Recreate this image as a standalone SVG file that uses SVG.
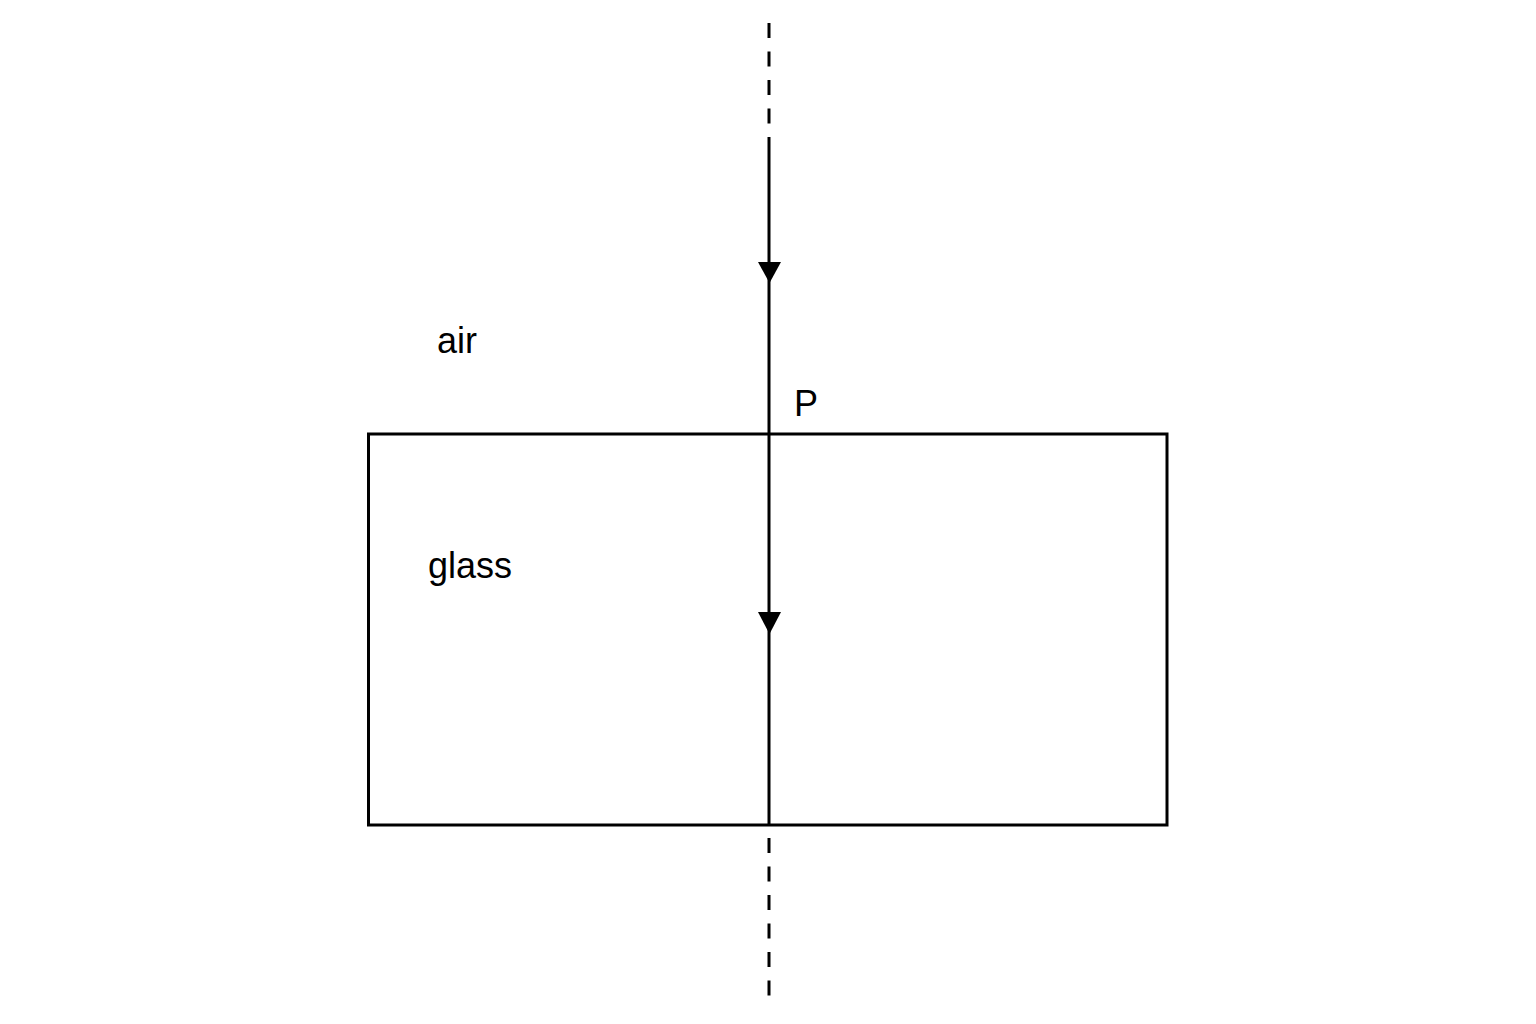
<svg xmlns="http://www.w3.org/2000/svg" width="1536" height="1024" viewBox="0 0 1536 1024">
<style>
.lbl{font-family:"Liberation Sans",Arial,sans-serif;font-size:36px;fill:#000}
.ln{stroke:#000;stroke-width:3;fill:none}
.dash{stroke:#000;stroke-width:3;fill:none;stroke-dasharray:15 13.5}
</style>
<rect width="1536" height="1024" fill="#fff"/>
<g id="glass-block">
<rect x="368.5" y="434" width="798.5" height="391" class="ln" stroke-width="2.5"/>
</g>
<g id="connectors">
<line x1="769" y1="23" x2="769" y2="128" class="dash"/>
<line x1="769" y1="137" x2="769" y2="825" class="ln"/>
<line x1="769" y1="838" x2="769" y2="996" class="dash"/>
<polygon points="758,262 781,262 769.5,283" fill="#000"/>
<polygon points="758,612 781,612 769.5,634" fill="#000"/>
</g>
<g id="labels">
<text class="lbl" x="437" y="353">air</text>
<text class="lbl" x="428" y="578">glass</text>
<text class="lbl" x="794" y="416">P</text>
</g>
</svg>
